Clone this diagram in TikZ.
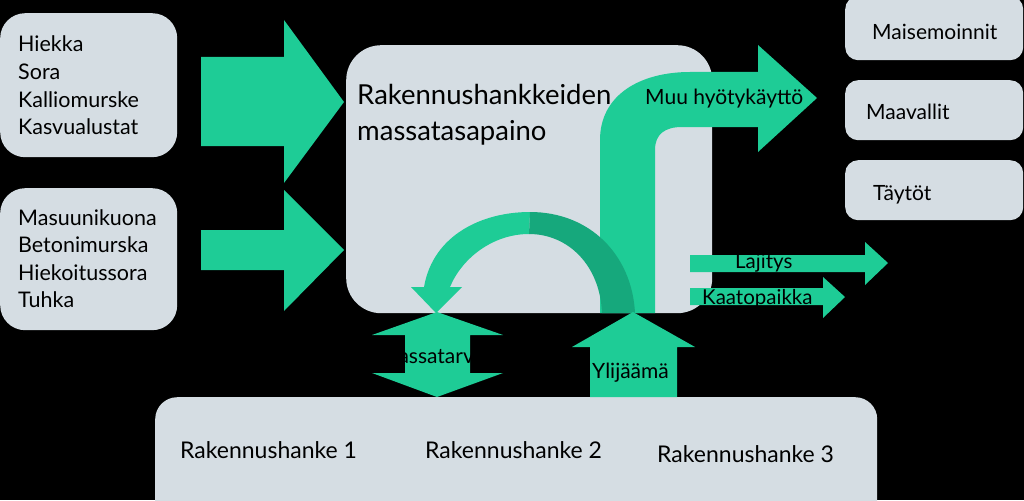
\documentclass[tikz,border=0pt]{standalone}
\usepackage{fontspec}
\setmainfont{Lato}
\definecolor{grn}{RGB}{30,204,150}
\definecolor{dgrn}{RGB}{22,168,124}
\definecolor{boxc}{RGB}{213,221,227}
\begin{document}
\begin{tikzpicture}[x=1pt,y=-1pt,
  box/.style={fill=boxc, draw=none, anchor=north west, inner sep=0pt},
  lbl/.style={anchor=base west, inner sep=0pt, text=black},
  flow/.style={fill=grn, draw=none},
  fsrc/.style={font=\fontsize{21.5}{25}\selectfont},
  fuse/.style={font=\fontsize{21}{25}\selectfont},
  fproj/.style={font=\fontsize{23}{27}\selectfont},
  fsmall/.style={font=\fontsize{20.5}{24}\selectfont},
  fmain/.style={font=\fontsize{27.5}{33}\selectfont}]
\useasboundingbox (0,0) rectangle (1024,500);
\fill[black] (0,0) rectangle (1024,500);
% boxes
\node[box, rounded corners=25pt, minimum width=177pt, minimum height=144pt] (src1) at (0,13) {};
\node[box, rounded corners=25pt, minimum width=177pt, minimum height=142pt] (src2) at (0,188) {};
\node[box, rounded corners=35pt, minimum width=366pt, minimum height=268pt] (main) at (346,45) {};
\node[box, rounded corners=22pt, minimum width=722pt, minimum height=130pt] (proj) at (155,397) {};
\node[box, rounded corners=13pt, minimum width=178pt, minimum height=64pt] (use1) at (845,-4) {};
\node[box, rounded corners=13pt, minimum width=178pt, minimum height=60pt] (use2) at (845,80) {};
\node[box, rounded corners=13pt, minimum width=178pt, minimum height=60pt] (use3) at (845,160) {};
% input arrows
\fill[flow] (201,57) -- (284,57) -- (284,20) -- (344,102) -- (284,183) -- (284,146) -- (201,146) -- cycle;
\fill[flow] (201,230) -- (284,230) -- (284,190) -- (344,250) -- (284,311) -- (284,270) -- (201,270) -- cycle;
% Muu hyotykaytto arrow
\fill[flow] (600,313) -- (600,140) .. controls (600,95) and (640,72) .. (690,72) -- (758,72) -- (758,45) -- (817,98) -- (758,152) -- (758,127) -- (682,127) .. controls (665,127) and (655,134) .. (655,150) -- (655,313) -- cycle;
% curved return arrow
\fill[flow] (424,287) .. controls (433,235) and (482,212) .. (530,212) -- (529,234) .. controls (493,234) and (462,258) .. (450,287) -- (462,287) -- (436,313) -- (411,287) -- cycle;
\fill[dgrn] (530,212) .. controls (590,212) and (632,255) .. (635,313) -- (602,313) .. controls (600,265) and (568,234) .. (529,234) -- cycle;
% double arrow (Massatarve)
\fill[flow] (437,312) -- (503,335) -- (470,335) -- (470,373) -- (503,373) -- (437,397) -- (372,373) -- (405,373) -- (405,335) -- (372,335) -- cycle;
% Ylijaama arrow
\fill[flow] (633,312) -- (695,347) -- (677,347) -- (677,397) -- (590,397) -- (590,347) -- (572,347) -- cycle;
% Lajitys, Kaatopaikka arrows
\fill[flow] (690,255) -- (865,255) -- (865,242) -- (888,263) -- (865,285) -- (865,272) -- (690,272) -- cycle;
\fill[flow] (690,288) -- (823,288) -- (823,277) -- (845,297) -- (823,318) -- (823,305) -- (690,305) -- cycle;
% texts
\node[lbl,fsrc] (t1) at (18,52) {Hiekka};
\node[lbl,fsrc] (t2) at (18,80) {Sora};
\node[lbl,fsrc] (t3) at (18,107) {Kalliomurske};
\node[lbl,fsrc] (t4) at (18,135) {Kasvualustat};
\node[lbl,fsrc] (t5) at (18,225) {Masuunikuona};
\node[lbl,fsrc] (t6) at (18,252) {Betonimurska};
\node[lbl,fsrc] (t7) at (18,280) {Hiekoitussora};
\node[lbl,fsrc] (t8) at (18,307) {Tuhka};
\node[lbl,fmain] (m1) at (357,105) {Rakennushankkeiden};
\node[lbl,fmain] (m2) at (357,140) {massatasapaino};
\node[lbl,fuse] (muu) at (645,105) {Muu hyötykäyttö};
\node[lbl,fuse] (u1) at (872,40) {Maisemoinnit};
\node[lbl,fuse] (u2) at (866,120) {Maavallit};
\node[lbl,fuse] (u3) at (873,200) {Täytöt};
\node[lbl,fsmall] (laj) at (735,268) {Lajitys};
\node[lbl,fsmall] (kaa) at (702,304) {Kaatopaikka};
\node[anchor=base, inner sep=0pt, fuse] (mt) at (432,363) {Massatarve};
\node[lbl,fuse] (yl) at (592,378) {Ylijäämä};
\node[lbl,fproj] (p1) at (180,458) {Rakennushanke 1};
\node[lbl,fproj] (p2) at (425,458) {Rakennushanke 2};
\node[lbl,fproj] (p3) at (657,462) {Rakennushanke 3};
\end{tikzpicture}
\end{document}
